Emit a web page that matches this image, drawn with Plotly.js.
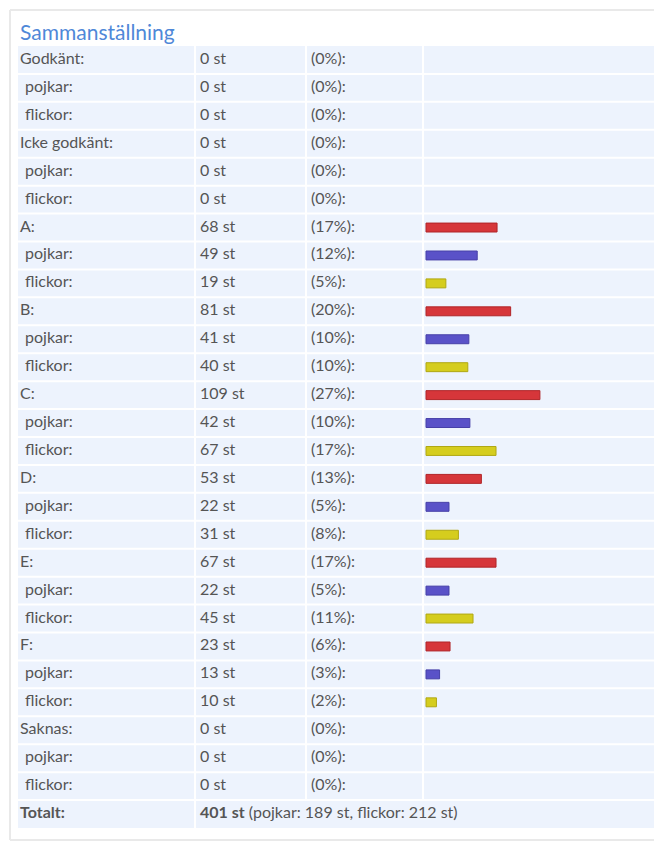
<!DOCTYPE html>
<html>
<head>
<meta charset="utf-8">
<script src="https://cdn.plot.ly/plotly-3.0.1.min.js"></script>
<style>html,body{margin:0;padding:0;background:#fff;}#chart{width:654px;height:842px;}</style>
</head>
<body>
<div id="chart"></div>
<script>
// ---- data ----
var groups     = ["Godkänt", "Icke godkänt", "A", "B", "C", "D", "E", "F", "Saknas"];
var totals     = [0, 0, 68, 81, 109, 53, 67, 23, 0];
var totalPct   = [0, 0, 17, 20, 27, 13, 17, 6, 0];
var boys       = [0, 0, 49, 41, 42, 22, 22, 13, 0];
var boysPct    = [0, 0, 12, 10, 10, 5, 5, 3, 0];
var girls      = [0, 0, 19, 40, 67, 31, 45, 10, 0];
var girlsPct   = [0, 0, 5, 10, 17, 8, 11, 2, 0];
var subLabels  = ["pojkar", "flickor"];
var titleText  = "Sammanställning";
var totalLabel = "Totalt";
var sumAll = 401, sumBoys = 189, sumGirls = 212;
var unit = "st";

// ---- layout constants ----
var W = 654, H = 842;
var mL = 18, mT = 46, mB = 14, mR = 0;
var plotW = W - mL - mR, plotH = H - mT - mB;
var col2 = 177, col3 = 288, col4 = 405;   // column borders (px from plot left)
var pxPerUnit = 1.045, barPad = 3;
var txtFont = {family: "Lato, 'Open Sans', sans-serif", size: 16, color: "#555555"};
var colors = {tot: "#d6363a", boy: "#5a52c8", girl: "#d5cd1e"};
var edge   = {tot: "#b02528", boy: "#4740a8", girl: "#b0a814"};

// ---- rows ----
var rowLabel = [], rowCount = [], rowPct = [], rowX = [];
var barY = {tot: [], boy: [], girl: []}, barX = {tot: [], boy: [], girl: []};
groups.forEach(function (g, i) {
  var base = rowLabel.length;
  rowLabel.push(g + ":"); rowCount.push(totals[i] + " " + unit); rowPct.push("(" + totalPct[i] + "%):"); rowX.push(2);
  rowLabel.push(subLabels[0] + ":"); rowCount.push(boys[i] + " " + unit); rowPct.push("(" + boysPct[i] + "%):"); rowX.push(7);
  rowLabel.push(subLabels[1] + ":"); rowCount.push(girls[i] + " " + unit); rowPct.push("(" + girlsPct[i] + "%):"); rowX.push(7);
  if (totals[i] > 0) { barY.tot.push(base); barX.tot.push(totals[i]); }
  if (boys[i] > 0)   { barY.boy.push(base + 1); barX.boy.push(boys[i]); }
  if (girls[i] > 0)  { barY.girl.push(base + 2); barX.girl.push(girls[i]); }
});
var nRows = rowLabel.length + 1; // + Totalt
var yIdx = rowLabel.map(function (_, i) { return i; });
var totRow = rowLabel.length;

var traces = [];
["tot", "boy", "girl"].forEach(function (k) {
  traces.push({type: "bar", orientation: "h", x: barX[k], y: barY[k], xaxis: "x2", yaxis: "y",
    width: 0.32, marker: {color: colors[k], line: {color: edge[k], width: 1}}, hoverinfo: "skip", showlegend: false});
});
traces.push({type: "scatter", mode: "text", x: rowX, y: yIdx, text: rowLabel, textposition: "middle right",
  textfont: txtFont, hoverinfo: "skip", showlegend: false, cliponaxis: false});
traces.push({type: "scatter", mode: "text", x: yIdx.map(function () { return col2 + 5; }), y: yIdx, text: rowCount,
  textposition: "middle right", textfont: txtFont, hoverinfo: "skip", showlegend: false, cliponaxis: false});
traces.push({type: "scatter", mode: "text", x: yIdx.map(function () { return col3 + 5; }), y: yIdx, text: rowPct,
  textposition: "middle right", textfont: txtFont, hoverinfo: "skip", showlegend: false, cliponaxis: false});
traces.push({type: "scatter", mode: "text", x: [2, col2 + 5], y: [totRow, totRow],
  text: ["<b>" + totalLabel + ":</b>", "<b>" + sumAll + " " + unit + "</b> (" + subLabels[0] + ": " + sumBoys + " " + unit + ", " + subLabels[1] + ": " + sumGirls + " " + unit + ")"],
  textposition: "middle right", textfont: txtFont, hoverinfo: "skip", showlegend: false, cliponaxis: false});

// ---- table grid ----
var shapes = [];
for (var r = 0; r < nRows - 1; r++) {
  shapes.push({type: "line", xref: "paper", yref: "y", x0: 0, x1: 1, y0: r + 0.5, y1: r + 0.5,
    line: {color: "#ffffff", width: 2}, layer: "below"});
}
shapes.push({type: "line", xref: "x", yref: "y", x0: col2, x1: col2, y0: -0.5, y1: nRows - 0.5, line: {color: "#fff", width: 2}, layer: "below"});
shapes.push({type: "line", xref: "x", yref: "y", x0: col3, x1: col3, y0: -0.5, y1: nRows - 1.5, line: {color: "#fff", width: 2}, layer: "below"});
shapes.push({type: "line", xref: "x", yref: "y", x0: col4, x1: col4, y0: -0.5, y1: nRows - 1.5, line: {color: "#fff", width: 2}, layer: "below"});
// card border (left, top, bottom)
var bx = (10 - mL) / plotW, byTop = 1 + (mT - 10) / plotH, byBot = 1 - (840 - mT) / plotH;
var shapeBorder = {color: "#e9e9e9", width: 2};
shapes.push({type: "line", xref: "paper", yref: "paper", x0: bx, x1: 1.02, y0: byTop, y1: byTop, line: shapeBorder, layer: "below"});
shapes.push({type: "line", xref: "paper", yref: "paper", x0: bx, x1: bx, y0: byBot, y1: byTop, line: shapeBorder, layer: "below"});
shapes.push({type: "line", xref: "paper", yref: "paper", x0: bx, x1: 1.02, y0: byBot, y1: byBot, line: shapeBorder, layer: "below"});

var layout = {
  width: W, height: H,
  margin: {l: mL, r: mR, t: mT, b: mB, pad: 0},
  paper_bgcolor: "#ffffff", plot_bgcolor: "#edf3fd",
  title: {text: titleText, font: {family: "Lato, 'Open Sans', sans-serif", size: 21, color: "#4f88d8"},
    x: 20 / W, xanchor: "left", xref: "container", y: 1 - 33 / H, yanchor: "middle", yref: "container"},
  xaxis: {range: [0, plotW], visible: false, fixedrange: true},
  xaxis2: {overlaying: "x", range: [-(col4 + barPad) / pxPerUnit, (plotW - col4 - barPad) / pxPerUnit], visible: false, fixedrange: true, anchor: "y"},
  yaxis: {range: [nRows - 0.5, -0.5], visible: false, fixedrange: true},
  shapes: shapes,
  barmode: "overlay",
  showlegend: false
};
Plotly.newPlot("chart", traces, layout, {staticPlot: true, displayModeBar: false});
</script>
</body>
</html>
